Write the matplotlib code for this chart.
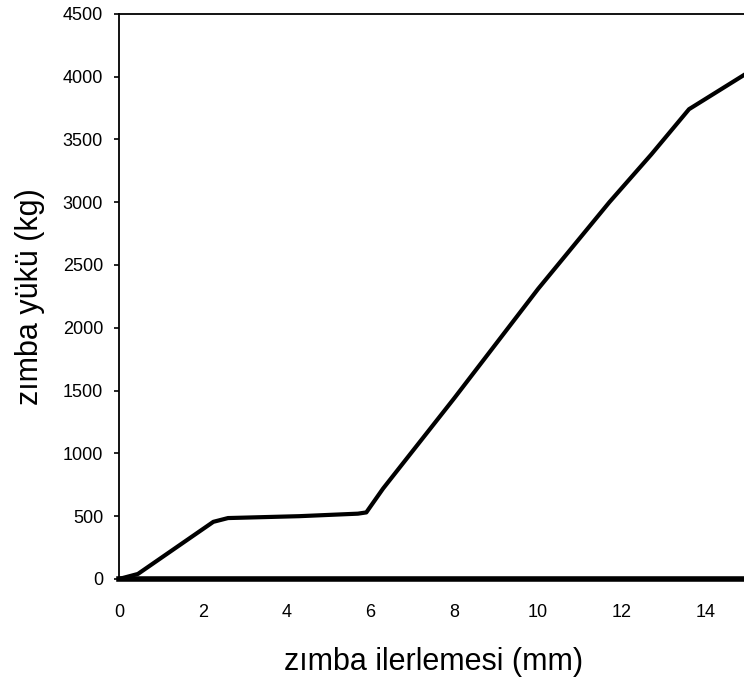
import matplotlib
matplotlib.use("Agg")
import matplotlib.pyplot as plt

plt.rcParams['font.family'] = ['Liberation Sans', 'DejaVu Sans']

# ---------------- DATA ----------------
ilerleme_mm = [0, 0.45, 2.25, 2.6, 4.3, 5.7, 5.9, 6.3, 8, 10, 11.7, 12.7, 13.6, 14.9]
yuk_kg = [0, 40, 455, 485, 500, 520, 530, 720, 1440, 2310, 3000, 3380, 3740, 4010]

taban_x = [0, 15]
taban_y = [0, 0]

x_ticks = [0, 2, 4, 6, 8, 10, 12, 14]
y_ticks = [0, 500, 1000, 1500, 2000, 2500, 3000, 3500, 4000, 4500]

# ---------------- FIGURE ----------------
fig = plt.figure(figsize=(7.44, 6.86), dpi=100)
ax = fig.add_axes([0.160, 0.156, 0.845, 0.824])

ax.plot(ilerleme_mm, yuk_kg, color='black', lw=3.0, solid_joinstyle='round')
ax.plot(taban_x, taban_y, color='black', lw=4.0, clip_on=False)

ax.set_xlim(0, 15)
ax.set_ylim(0, 4500)
ax.set_xticks(x_ticks)
ax.set_yticks(y_ticks)

ax.spines['right'].set_visible(False)
ax.spines['bottom'].set_visible(False)
ax.spines['left'].set_linewidth(1.3)
ax.spines['top'].set_linewidth(1.3)

ax.tick_params(axis='x', length=0, pad=18, labelsize=13)
ax.tick_params(axis='y', direction='out', length=3.5, width=1.2, pad=8, labelsize=13)

ax.set_xlabel("zımba ilerlemesi (mm)", fontsize=22, labelpad=19)
ax.set_ylabel("zımba yükü (kg)", fontsize=22, labelpad=13)

fig.savefig("out.png", dpi=100)
